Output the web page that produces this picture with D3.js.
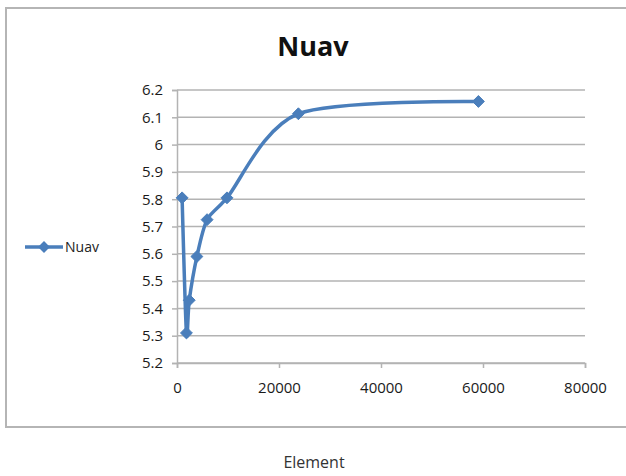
<!DOCTYPE html>
<html>
<head>
<meta charset="utf-8">
<script src="https://cdn.jsdelivr.net/npm/d3@7"></script>
<style>
  html, body { margin: 0; padding: 0; background: #fff; }
  svg { display: block; }
  text { font-family: "Open Sans", "DejaVu Sans", sans-serif; }
</style>
</head>
<body>
<svg id="chart" width="626" height="476"></svg>
<script>
// Nuav against element count
const elements = [1000, 1850, 2400, 3900, 5900, 9800, 23800, 59100];
const nuav     = [5.805, 5.31, 5.43, 5.59, 5.725, 5.805, 6.113, 6.158];
const xTicks   = [0, 20000, 40000, 60000, 80000];
const yTicks   = [5.2, 5.3, 5.4, 5.5, 5.6, 5.7, 5.8, 5.9, 6, 6.1, 6.2];
const seriesName = "Nuav";
const titleText = "Nuav";
const xTitle = "Element";

const svg = d3.select("#chart");
const blue = "#4a7ebb";
const grid = "#b3b3b3";

// chart frame
svg.append("rect")
  .attr("x", 6).attr("y", 8).attr("width", 630).attr("height", 419)
  .attr("fill", "#fff").attr("stroke", "#b5b5b5").attr("stroke-width", 2);

const x = d3.scaleLinear().domain([0, 80000]).range([177, 585]);
const y = d3.scaleLinear().domain([5.2, 6.2]).range([363, 90]);

// horizontal gridlines
svg.append("g").selectAll("line").data(yTicks).join("line")
  .attr("x1", x(0)).attr("x2", x(80000))
  .attr("y1", d => y(d)).attr("y2", d => y(d))
  .attr("stroke", grid).attr("stroke-width", 1.5);

// axes
const yAxis = svg.append("g").attr("transform", `translate(${x(0)},0)`)
  .call(d3.axisLeft(y).tickValues(yTicks).tickSize(5).tickPadding(9).tickFormat(d3.format("~g")));
const xAxis = svg.append("g").attr("transform", `translate(0,${y(5.2)})`)
  .call(d3.axisBottom(x).tickValues(xTicks).tickSize(5).tickPadding(14).tickFormat(d3.format("d")));
[yAxis, xAxis].forEach(g => {
  g.select(".domain").attr("stroke", grid).attr("stroke-width", 1.5);
  g.selectAll(".tick line").attr("stroke", grid).attr("stroke-width", 1.5);
  g.selectAll(".tick text").attr("fill", "#1a1a1a").attr("font-size", 15)
    .attr("font-family", "'Open Sans', sans-serif");
});

// smoothed series line
const pts = elements.map((e, i) => [e, nuav[i]]);
const line = d3.line().x(d => x(d[0])).y(d => y(d[1])).curve(d3.curveCardinal.tension(0.15));
svg.append("path").datum(pts)
  .attr("d", line).attr("fill", "none")
  .attr("stroke", blue).attr("stroke-width", 3.5).attr("stroke-linejoin", "round");

// diamond markers
const diamond = d3.symbol().type(d3.symbolDiamond2).size(90);
svg.append("g").selectAll("path").data(pts).join("path")
  .attr("d", diamond)
  .attr("transform", d => `translate(${x(d[0])},${y(d[1])})`)
  .attr("fill", blue).attr("stroke", blue).attr("stroke-width", 1);

// title
svg.append("text").attr("x", 313).attr("y", 56).attr("text-anchor", "middle")
  .attr("font-size", 27).attr("font-weight", "bold").attr("fill", "#111").text(titleText);

// legend
const lg = svg.append("g").attr("transform", "translate(25,247)");
lg.append("line").attr("x1", 0).attr("x2", 38).attr("stroke", blue).attr("stroke-width", 3.5);
lg.append("path").attr("d", diamond).attr("transform", "translate(19,0)").attr("fill", blue);
lg.append("text").attr("x", 40).attr("y", 5).attr("font-size", 14).attr("fill", "#222").text(seriesName);

// x-axis title below the frame
svg.append("text").attr("x", 314).attr("y", 468).attr("text-anchor", "middle")
  .attr("font-size", 16).attr("fill", "#333").text(xTitle);
</script>
</body>
</html>
